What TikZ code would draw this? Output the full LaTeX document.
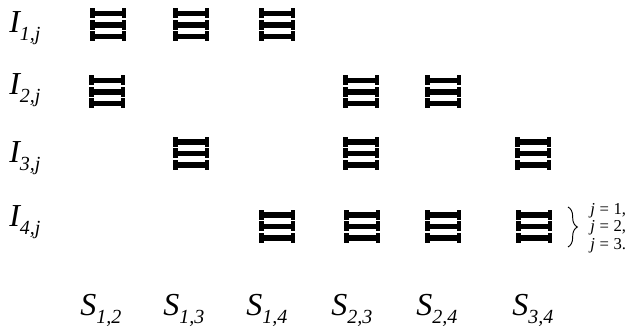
\documentclass[tikz,border=0pt]{standalone}
\usepackage{fontspec}
\setmainfont{Liberation Serif}
\usetikzlibrary{decorations.pathreplacing}
\tikzset{
  x=0.75pt,y=-0.75pt,
  bell/.pic={
    \foreach \d in {-11.5,0,11.5}{
      \fill[black] (-18,\d-2.7) rectangle (18,\d+2.7);
      \fill[black] (-18,\d-5) rectangle (-13.5,\d+5);
      \fill[black] (13.5,\d-5) rectangle (18,\d+5);
    }
  },
  lab/.style={font=\fontsize{24}{26}\selectfont\itshape,inner sep=0pt,anchor=base west},
  sub/.style={font=\fontsize{12.5}{14}\selectfont,inner sep=0pt,anchor=base west}
}
\newcommand{\Lb}[3]{#1\raisebox{-0.235em}{\fontsize{15}{17}\selectfont #2,#3}}
\newcommand{\Jv}[1]{{\itshape j}\hspace{0.28em}=\hspace{0.28em}#1}
\begin{document}
\begin{tikzpicture}
\useasboundingbox (0,0) rectangle (629,327);
\fill[white] (0,0) rectangle (629,327);
\foreach \x/\y in {108/25,191/25,277/25,
  107/92,361/92,443/92,
  191/153.5,361/153.5,533/153.5,
  277/226.5,362/226.5,443/226.5,534/226.5}{
  \pic at (\x,\y) {bell};
}
\node[lab] (i1) at (9,33) {\Lb{I}{1}{j}};
\node[lab] (i2) at (9,95) {\Lb{I}{2}{j}};
\node[lab] (i3) at (9,163) {\Lb{I}{3}{j}};
\node[lab] (i4) at (9,227) {\Lb{I}{4}{j}};
\node[lab] (s1) at (80,316) {\Lb{S}{1}{2}};
\node[lab] (s2) at (163,316) {\Lb{S}{1}{3}};
\node[lab] (s3) at (246,316) {\Lb{S}{1}{4}};
\node[lab] (s4) at (331,316) {\Lb{S}{2}{3}};
\node[lab] (s5) at (416,316) {\Lb{S}{2}{4}};
\node[lab] (s6) at (512,316) {\Lb{S}{3}{4}};
\draw[line width=0.7pt,decorate,decoration={brace,amplitude=7pt}] (568,207) -- (568,247);
\node[sub] (j1) at (590,215) {\Jv{1},};
\node[sub] (j2) at (590,232) {\Jv{2},};
\node[sub] (j3) at (590,250) {\Jv{3}.};
\end{tikzpicture}
\end{document}
